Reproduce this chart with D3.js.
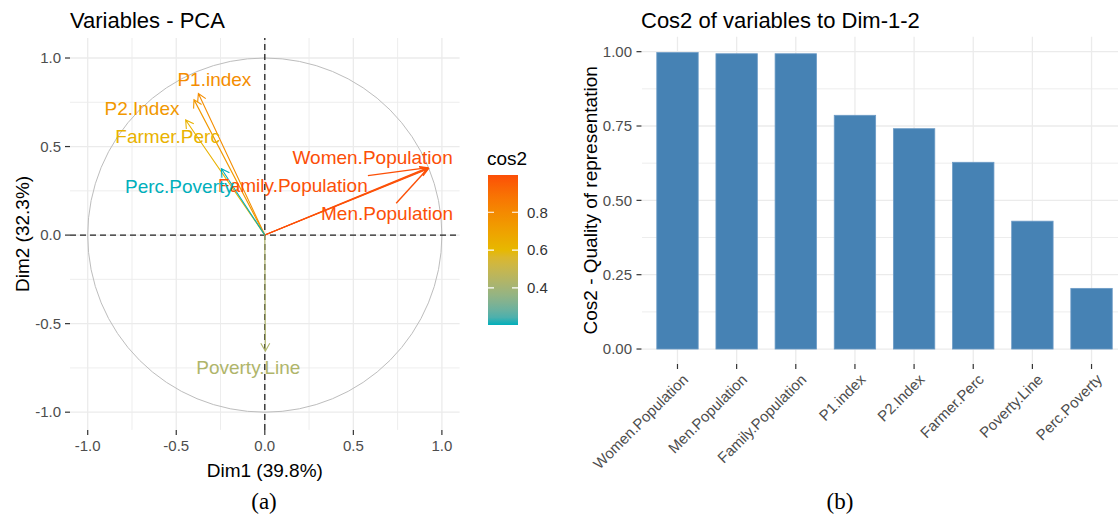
<!DOCTYPE html>
<html>
<head>
<meta charset="utf-8">
<script src="https://cdn.jsdelivr.net/npm/d3@7"></script>
<style>
  body { margin: 0; background: #fff; }
  text { font-family: "Liberation Sans", Arial, sans-serif; }
</style>
</head>
<body>
<div id="chart"></div>
<script>
// ---- data ----
// PCA variable coordinates (Dim1, Dim2)
let varNames = ["Women.Population", "Men.Population", "Family.Population", "P1.index",
                "P2.Index", "Farmer.Perc", "Poverty.Line", "Perc.Poverty"]
let dim1 = [0.925, 0.922, 0.921, -0.375, -0.400, -0.447, 0.003, -0.245]
let dim2 = [0.375, 0.378, 0.381, 0.800, 0.765, 0.650, -0.655, 0.375]
// cos2 on Dim-1-2, same order (also bar chart order)
let cos2 = [0.997, 0.993, 0.993, 0.786, 0.741, 0.628, 0.430, 0.204]

let majorTicks = [-1.0, -0.5, 0.0, 0.5, 1.0]
let minorTicks = [-0.75, -0.25, 0.25, 0.75]
let legendTicks = [0.4, 0.6, 0.8]
let barTicks = [0, 0.25, 0.5, 0.75, 1.0]
let barMinor = [0.125, 0.375, 0.625, 0.875]

// label placement (pixels from arrow tip), like ggrepel put them
let labelNudge = {
  "Women.Population": [-56, -11],
  "Men.Population": [-41, 45],
  "Family.Population": [-135, 18],
  "P1.index": [16, -14],
  "P2.Index": [-52, 9],
  "Farmer.Perc": [-18, 16],
  "Poverty.Line": [-17, 16],
  "Perc.Poverty": [-42, 18]
}

let vars = varNames.map((n, i) => ({name: n, x: dim1[i], y: dim2[i], cos2: cos2[i]}))

let W = 1118, H = 519
let svg = d3.select("#chart").append("svg")
  .attr("width", W).attr("height", H)

let tickCol = "#4D4D4D", gridCol = "#EBEBEB"
// R prints a plain hyphen for negatives
let fmt1 = d => d3.format(".1f")(d).replace("\u2212", "-")
let fmt2 = d => d3.format(".2f")(d).replace("\u2212", "-")

// ================= (a) PCA variables =================
let xs = d3.scaleLinear().domain([-1.1, 1.1]).range([70, 459.6])
let ys = d3.scaleLinear().domain([-1.1, 1.113]).range([429.9, 38])

let colorDomain = d3.extent(cos2)
let colorScale = d3.scaleLinear()
  .domain([colorDomain[0], (colorDomain[0] + colorDomain[1]) / 2, colorDomain[1]])
  .range(["#00AFBB", "#E7B800", "#FC4E07"])
  .interpolate(d3.interpolateLab)

let pa = svg.append("g")

// grid
function gridLines(g, ticks, width) {
  g.selectAll(null).data(ticks).enter().append("line")
    .attr("x1", d => xs(d)).attr("x2", d => xs(d))
    .attr("y1", ys.range()[0]).attr("y2", ys.range()[1])
    .attr("stroke", gridCol).attr("stroke-width", width)
  g.selectAll(null).data(ticks).enter().append("line")
    .attr("y1", d => ys(d)).attr("y2", d => ys(d))
    .attr("x1", xs.range()[0]).attr("x2", xs.range()[1])
    .attr("stroke", gridCol).attr("stroke-width", width)
}
gridLines(pa, minorTicks, 0.9)
gridLines(pa, majorTicks, 1.3)

// correlation circle
pa.append("circle")
  .attr("cx", xs(0)).attr("cy", ys(0))
  .attr("r", xs(1) - xs(0))
  .attr("fill", "none").attr("stroke", "#BDBDBD").attr("stroke-width", 1)

// dashed axes
pa.append("line")
  .attr("x1", xs.range()[0]).attr("x2", xs.range()[1])
  .attr("y1", ys(0)).attr("y2", ys(0))
  .attr("stroke", "#222").attr("stroke-width", 1.3).attr("stroke-dasharray", "6,4")
pa.append("line")
  .attr("x1", xs(0)).attr("x2", xs(0))
  .attr("y1", ys.range()[0]).attr("y2", ys.range()[1])
  .attr("stroke", "#222").attr("stroke-width", 1.3).attr("stroke-dasharray", "6,4")

// arrows
function arrowPath(d) {
  let x0 = xs(0), y0 = ys(0), x1 = xs(d.x), y1 = ys(d.y)
  let a = Math.atan2(y1 - y0, x1 - x0), L = 9, s = Math.PI / 6
  let h1 = [x1 - L * Math.cos(a - s), y1 - L * Math.sin(a - s)]
  let h2 = [x1 - L * Math.cos(a + s), y1 - L * Math.sin(a + s)]
  return `M${x0},${y0}L${x1},${y1}M${h1[0]},${h1[1]}L${x1},${y1}L${h2[0]},${h2[1]}`
}
pa.selectAll("path.arrow").data(vars).enter().append("path")
  .attr("class", "arrow")
  .attr("d", arrowPath)
  .attr("fill", "none")
  .attr("stroke", d => colorScale(d.cos2))
  .attr("stroke-width", 1.1)

// labels, plus a repel-style segment when a label sits far from its tip
let labFont = 19
let labelLayer = pa.append("g")
let segLayer = pa.append("g")
vars.forEach(d => {
  let tx = xs(d.x), ty = ys(d.y)
  let lx = tx + labelNudge[d.name][0], ly = ty + labelNudge[d.name][1]
  let txt = labelLayer.append("text")
    .attr("x", lx).attr("y", ly)
    .attr("text-anchor", "middle").attr("dy", "0.35em")
    .attr("font-size", labFont)
    .attr("fill", colorScale(d.cos2))
    .text(d.name)
  let w = txt.node().getComputedTextLength()
  let hw = w / 2 + 2, hh = 10
  let dx = tx - lx, dy = ty - ly
  let k = Math.min(Math.abs(dx) > 0 ? hw / Math.abs(dx) : Infinity,
                   Math.abs(dy) > 0 ? hh / Math.abs(dy) : Infinity)
  if (k >= 1) return
  let sx = lx + dx * k, sy = ly + dy * k
  if (Math.hypot(tx - sx, ty - sy) > 26) {
    segLayer.append("path")
      .attr("d", `M${sx},${sy}L${tx},${ty}`)
      .attr("fill", "none")
      .attr("stroke", colorScale(d.cos2)).attr("stroke-width", 1.4)
  }
})

// axes ticks and labels
let tickFont = 15
pa.selectAll(null).data(majorTicks).enter().append("line")
  .attr("x1", 65).attr("x2", 70)
  .attr("y1", d => ys(d)).attr("y2", d => ys(d))
  .attr("stroke", "#333").attr("stroke-width", 1.2)
pa.selectAll(null).data(majorTicks).enter().append("text")
  .attr("x", 61).attr("y", d => ys(d)).attr("dy", "0.35em")
  .attr("text-anchor", "end").attr("font-size", tickFont).attr("fill", tickCol)
  .text(fmt1)
pa.selectAll(null).data(majorTicks).enter().append("line")
  .attr("x1", d => xs(d)).attr("x2", d => xs(d))
  .attr("y1", 430).attr("y2", 435)
  .attr("stroke", "#333").attr("stroke-width", 1.2)
pa.selectAll(null).data(majorTicks).enter().append("text")
  .attr("x", d => xs(d)).attr("y", 446).attr("dy", "0.35em")
  .attr("text-anchor", "middle").attr("font-size", tickFont).attr("fill", tickCol)
  .text(fmt1)

pa.append("text").attr("x", xs(0)).attr("y", 470).attr("dy", "0.35em")
  .attr("text-anchor", "middle").attr("font-size", 19).text("Dim1 (39.8%)")
pa.append("text").attr("transform", `translate(22,${(ys.range()[0] + ys.range()[1]) / 2}) rotate(-90)`)
  .attr("dy", "0.35em").attr("text-anchor", "middle").attr("font-size", 19).text("Dim2 (32.3%)")
pa.append("text").attr("x", 70).attr("y", 20).attr("dy", "0.35em")
  .attr("font-size", 22).text("Variables - PCA")

// legend colour bar
let lg = svg.append("g")
let barTop = 175, barBot = 325, barX = 488, barW = 30
let ls = d3.scaleLinear().domain(colorDomain).range([barBot, barTop])
let defs = svg.append("defs")
let grad = defs.append("linearGradient").attr("id", "cgrad")
  .attr("x1", 0).attr("y1", 1).attr("x2", 0).attr("y2", 0)
d3.range(0, 1.0001, 0.05).forEach(t => {
  grad.append("stop").attr("offset", t)
    .attr("stop-color", colorScale(colorDomain[0] + t * (colorDomain[1] - colorDomain[0])))
})
lg.append("rect").attr("x", barX).attr("y", barTop).attr("width", barW).attr("height", barBot - barTop)
  .attr("fill", "url(#cgrad)")
lg.selectAll(null).data(legendTicks).enter().append("path")
  .attr("d", d => `M${barX},${ls(d)}h6M${barX + barW - 6},${ls(d)}h6`)
  .attr("stroke", "#fff").attr("stroke-width", 1.2)
lg.selectAll(null).data(legendTicks).enter().append("text")
  .attr("x", barX + barW + 9).attr("y", d => ls(d)).attr("dy", "0.35em")
  .attr("font-size", tickFont).attr("fill", "#333")
  .text(fmt1)
lg.append("text").attr("x", 487).attr("y", 158).attr("dy", "0.35em")
  .attr("font-size", 19).text("cos2")

// ================= (b) Cos2 bar chart =================
let pb = svg.append("g")
let step = 59.15
let bx = d3.scaleBand().domain(varNames)
  .range([642, 642 + 8.2 * step]).paddingInner(0.3).paddingOuter(0.25)
let by = d3.scaleLinear().domain([-0.05, 1.05]).range([363.9, 36.8])

pb.selectAll(null).data(barMinor).enter().append("line")
  .attr("x1", bx.range()[0]).attr("x2", bx.range()[1])
  .attr("y1", d => by(d)).attr("y2", d => by(d))
  .attr("stroke", gridCol).attr("stroke-width", 0.9)
pb.selectAll(null).data(barTicks).enter().append("line")
  .attr("x1", bx.range()[0]).attr("x2", bx.range()[1])
  .attr("y1", d => by(d)).attr("y2", d => by(d))
  .attr("stroke", gridCol).attr("stroke-width", 1.3)
pb.selectAll(null).data(varNames).enter().append("line")
  .attr("x1", d => bx(d) + bx.bandwidth() / 2).attr("x2", d => bx(d) + bx.bandwidth() / 2)
  .attr("y1", by.range()[0]).attr("y2", by.range()[1])
  .attr("stroke", gridCol).attr("stroke-width", 1.3)

pb.selectAll("rect").data(vars).enter().append("rect")
  .attr("x", d => bx(d.name)).attr("width", bx.bandwidth())
  .attr("y", d => by(d.cos2)).attr("height", d => by(0) - by(d.cos2))
  .attr("fill", "#4682B4").attr("stroke", "#6C9BC6").attr("stroke-width", 0.8)

pb.selectAll(null).data(barTicks).enter().append("line")
  .attr("x1", 636.5).attr("x2", 641.5)
  .attr("y1", d => by(d)).attr("y2", d => by(d))
  .attr("stroke", "#333").attr("stroke-width", 1.2)
pb.selectAll(null).data(barTicks).enter().append("text")
  .attr("x", 632).attr("y", d => by(d)).attr("dy", "0.35em")
  .attr("text-anchor", "end").attr("font-size", tickFont).attr("fill", tickCol)
  .text(fmt2)
pb.selectAll(null).data(varNames).enter().append("line")
  .attr("x1", d => bx(d) + bx.bandwidth() / 2).attr("x2", d => bx(d) + bx.bandwidth() / 2)
  .attr("y1", 364).attr("y2", 369)
  .attr("stroke", "#333").attr("stroke-width", 1.2)
pb.selectAll(null).data(varNames).enter().append("text")
  .attr("transform", d => `translate(${bx(d) + bx.bandwidth() / 2 + 4},373) rotate(-45)`)
  .attr("dy", "0.71em").attr("text-anchor", "end")
  .attr("font-size", tickFont).attr("fill", tickCol)
  .text(d => d)

pb.append("text").attr("transform", `translate(590,${(by.range()[0] + by.range()[1]) / 2}) rotate(-90)`)
  .attr("dy", "0.35em").attr("text-anchor", "middle").attr("font-size", 19)
  .text("Cos2 - Quality of representation")
pb.append("text").attr("x", 641).attr("y", 20).attr("dy", "0.35em")
  .attr("font-size", 22).text("Cos2 of variables to Dim-1-2")

// sub-figure captions
svg.append("text").attr("x", 264).attr("y", 501).attr("dy", "0.35em")
  .attr("text-anchor", "middle").attr("font-size", 23)
  .style("font-family", "'Liberation Serif', 'Times New Roman', serif").text("(a)")
svg.append("text").attr("x", 840).attr("y", 501).attr("dy", "0.35em")
  .attr("text-anchor", "middle").attr("font-size", 23)
  .style("font-family", "'Liberation Serif', 'Times New Roman', serif").text("(b)")
</script>
</body>
</html>
